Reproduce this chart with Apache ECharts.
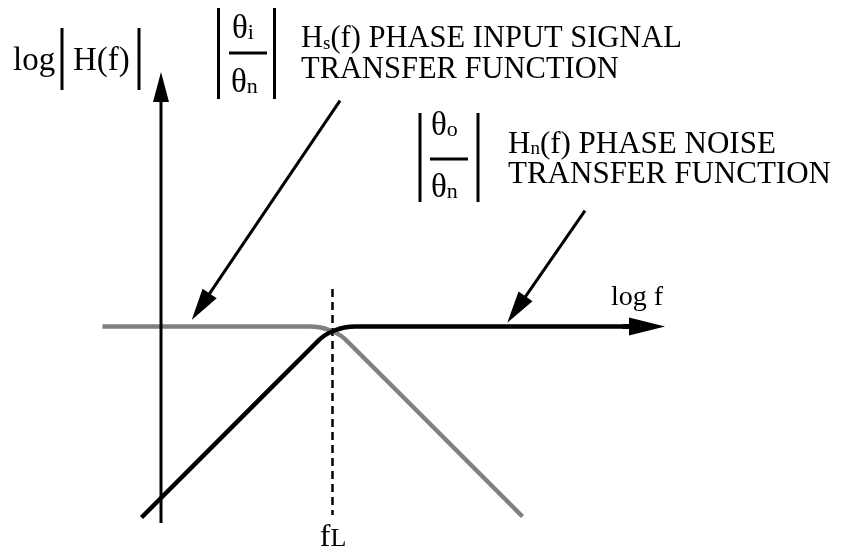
<!DOCTYPE html>
<html>
<head>
<meta charset="utf-8">
<script src="https://cdn.jsdelivr.net/npm/echarts@6/dist/echarts.min.js"></script>
<style>
  html, body { margin: 0; padding: 0; background: #fff; }
  #chart { width: 843px; height: 552px; }
</style>
</head>
<body>
<div id="chart"></div>
<script>
// Both axes are in decades: x = log10(f / fL), y = log10|H(f)|.
// The corner frequency fL sits at x = 0, the flat (unity) level at y = 0.

// Hs(f): phase input signal transfer function (low-pass)
const hsLogF = [-2.30, -0.23, -0.12, -0.02, 0.08, 0.16, 1.90];
const hsLogH = [0, 0, -0.01, -0.04, -0.09, -0.16, -1.90];

// Hn(f): phase noise transfer function (high-pass)
const hnLogF = [-1.91, -0.16, -0.08, 0.02, 0.12, 0.23, 3.00];
const hnLogH = [-1.91, -0.16, -0.09, -0.04, -0.01, 0, 0];

// dashed marker at the corner frequency fL
const fLLogF = [0, 0];
const fLLogH = [0.375, -1.885];

// arrows: tail point -> tip point (vertical axis, log f axis, two pointers)
const arrowFrom = [[-1.715, -1.965], [2.90, 0], [0.075, 2.258], [2.525, 1.158]];
const arrowTo   = [[-1.715, 2.545], [3.325, 0], [-1.408, 0.065], [1.748, 0.038]];

// visible window of the plane, in decades
const xRange = [-3.325, 5.105];
const yRange = [-2.255, 3.265];

const FONT = '"Liberation Serif", "Times New Roman", Times, serif';
const GRAY = '#808080';

// head length, head width, shaft width for each arrow
const arrowLook = [
  { len: 30, w: 16, lw: 3 },
  { len: 36, w: 18, lw: 5 },
  { len: 32, w: 17, lw: 3 },
  { len: 32, w: 17, lw: 3 }
];

const zip = (xs, ys) => xs.map((x, i) => [x, ys[i]]);

// text line placed by its baseline; 's' tokens are smaller letters on the same baseline
function label(x, baseline, tokens, big, small, align) {
  small = small || big;
  const lift = 0.16 * (big - small);
  return {
    type: 'text',
    x: x,
    y: baseline - 0.84 * big,
    z: 10,
    style: {
      text: tokens.map(t => '{' + t[1] + '|' + t[0] + '}').join(''),
      align: align || 'left',
      verticalAlign: 'top',
      fill: '#000',
      rich: {
        b: { fontSize: big, lineHeight: big, fontFamily: FONT, verticalAlign: 'bottom', fill: '#000' },
        s: { fontSize: small, fontFamily: FONT, verticalAlign: 'bottom', fill: '#000', padding: [0, 0, lift, 0] }
      }
    }
  };
}

function bar(x1, y1, x2, y2) {
  return {
    type: 'line', z: 10,
    shape: { x1: x1, y1: y1, x2: x2, y2: y2 },
    style: { stroke: '#000', lineWidth: 3 }
  };
}

const chart = echarts.init(document.getElementById('chart'), null, { renderer: 'canvas' });

chart.setOption({
  animation: false,
  backgroundColor: '#fff',
  grid: { left: 0, right: 0, top: 0, bottom: 0, containLabel: false },
  xAxis: { type: 'value', min: xRange[0], max: xRange[1], show: false },
  yAxis: { type: 'value', min: yRange[0], max: yRange[1], show: false },
  series: [
    {
      name: 'fL',
      type: 'line',
      data: zip(fLLogF, fLLogH),
      showSymbol: false,
      silent: true,
      z: 1,
      lineStyle: { color: '#000', width: 2.5, type: [8, 5] }
    },
    {
      name: 'Hs(f)',
      type: 'line',
      data: zip(hsLogF, hsLogH),
      showSymbol: false,
      smooth: 0.4,
      z: 2,
      lineStyle: { color: GRAY, width: 4.5, join: 'round', cap: 'butt' }
    },
    {
      name: 'Hn(f)',
      type: 'line',
      data: zip(hnLogF, hnLogH),
      showSymbol: false,
      smooth: 0.4,
      z: 3,
      lineStyle: { color: '#000', width: 4.5, join: 'round', cap: 'butt' }
    },
    {
      name: 'arrows',
      type: 'custom',
      z: 4,
      data: arrowFrom.map((p, i) => [p[0], p[1], arrowTo[i][0], arrowTo[i][1]]),
      encode: { x: [0, 2], y: [1, 3] },
      renderItem: function (params, api) {
        const look = arrowLook[params.dataIndex];
        const p0 = api.coord([api.value(0), api.value(1)]);
        const p1 = api.coord([api.value(2), api.value(3)]);
        const dx = p1[0] - p0[0], dy = p1[1] - p0[1];
        const d = Math.sqrt(dx * dx + dy * dy);
        const ux = dx / d, uy = dy / d;
        const nx = -uy, ny = ux;
        const bx = p1[0] - ux * look.len, by = p1[1] - uy * look.len;
        const h = look.w / 2;
        return {
          type: 'group',
          children: [
            {
              type: 'line',
              shape: { x1: p0[0], y1: p0[1], x2: bx + ux * 2, y2: by + uy * 2 },
              style: { stroke: '#000', lineWidth: look.lw }
            },
            {
              type: 'polygon',
              shape: { points: [[p1[0], p1[1]], [bx + nx * h, by + ny * h], [bx - nx * h, by - ny * h]] },
              style: { fill: '#000' }
            }
          ]
        };
      }
    }
  ],
  graphic: [
    label(13, 73, [['log', 'b']], 33),
    bar(62, 28, 62, 90),
    label(73, 73, [['H(f)', 'b']], 33),
    bar(139, 28, 139, 90),

    bar(218.5, 8, 218.5, 99),
    label(232, 41, [['θ', 'b'], ['i', 's']], 33, 22),
    bar(229, 53, 267, 53),
    label(231, 95, [['θ', 'b'], ['n', 's']], 33, 22),
    bar(274.5, 8, 274.5, 99),

    label(301, 50, [['H', 'b'], ['s', 's'], ['(f) PHASE INPUT SIGNAL', 'b']], 30.5, 19),
    label(301, 81, [['TRANSFER FUNCTION', 'b']], 30.5),

    bar(420, 113, 420, 202),
    label(431, 138, [['θ', 'b'], ['o', 's']], 33, 22),
    bar(430, 159, 468, 159),
    label(431, 200, [['θ', 'b'], ['n', 's']], 33, 22),
    bar(478, 113, 478, 202),

    label(508, 155, [['H', 'b'], ['n', 's'], ['(f) PHASE NOISE', 'b']], 31, 19),
    label(508, 185, [['TRANSFER FUNCTION', 'b']], 31),

    label(611, 307, [['log f', 'b']], 28),
    label(333, 548, [['f', 'b'], ['L', 's']], 32, 26, 'center')
  ]
});
</script>
</body>
</html>
